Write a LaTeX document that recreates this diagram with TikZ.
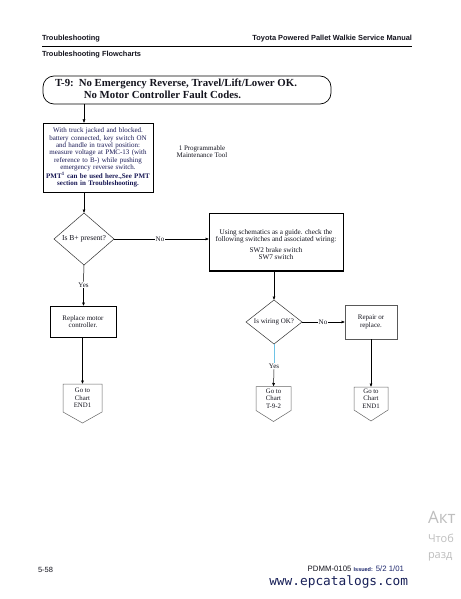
\documentclass[tikz,border=0pt]{standalone}
\usepackage{fontspec}
\setmainfont{Liberation Serif}
\setsansfont{Liberation Sans}
\setmonofont{DejaVu Sans Mono}
\newfontfamily\wmfont{Open Sans}
\usetikzlibrary{shapes.geometric,calc,arrows.meta}
\definecolor{navy}{RGB}{25,25,85}
\definecolor{ink}{RGB}{20,20,30}
\definecolor{lineblue}{RGB}{110,195,230}
\definecolor{wm}{RGB}{190,190,190}
\definecolor{issblue}{RGB}{30,40,110}
\begin{document}
\begin{tikzpicture}[x=1pt,y=-1pt,
  every node/.style={inner sep=0pt, outer sep=0pt, text=ink},
  conn/.style={draw=black, line width=0.5pt},
  arr/.style={conn, -{Latex[length=3.5pt,width=3pt]}},
  small/.style={font=\fontsize{7}{7.6}\selectfont},
  boxk/.style={draw=black, line width=0.6pt, anchor=north west},
  dia/.style={diamond, draw=black!80, line width=0.5pt},
  gobody/.style={rectangle, align=center, font=\fontsize{6.8}{7.4}\selectfont},
  pent/.style={draw=black!60, line width=0.5pt},
  hdr/.style={font=\sffamily\bfseries\fontsize{7.4}{8}\selectfont}]
\clip (0,0) rectangle (460,599);
\fill[white] (0,0) rectangle (460,599);

% header
\node[hdr, anchor=base west] (h1) at (42,41) {Troubleshooting};
\node[hdr, anchor=base east] (h2) at (412,41) {Toyota Powered Pallet Walkie Service Manual};
\coordinate (rl) at (42,46);
\coordinate (rr) at (412,46);
\draw[line width=0.8pt] (rl) -- (rr);
\node[hdr, anchor=base west] (h3) at (42,57) {Troubleshooting Flowcharts};

% title
\node[draw=black, rounded corners=11pt, line width=0.7pt, minimum width=288pt, minimum height=28pt, anchor=north west] (title) at (43,76) {};
\node[anchor=west, font=\bfseries\fontsize{10.8}{12}\selectfont] (tt) at (55,90.5)
  {\begin{tabular}{@{}l@{\hspace{5pt}}l@{}}T-9: & No Emergency Reverse, Travel/Lift/Lower OK.\\ & \hspace{5pt}No Motor Controller Fault Codes.\end{tabular}};

% diamond 1
\node[dia, minimum width=60pt, minimum height=52pt] (d1) at (84,239) {};
\node[font=\fontsize{7.6}{8}\selectfont] (d1t) at (d1) {Is B+ present?};

% box 1
\node[boxk, minimum width=110pt, minimum height=69pt] (b1) at (43,123) {};
\node[font=\fontsize{7}{7.3}\selectfont, align=center, text width=108pt, text=navy] (b1t) at (b1.center)
 {With truck jacked and blocked.\\ battery connected, key switch ON\\ and handle in travel position:\\ measure voltage at PMC-13 (with\\ reference to B-) while pushing\\ emergency reverse switch.\\ \textbf{PMT\textsuperscript{1} can be used here.,See PMT}\\ \textbf{section in Troubleshooting.}};
\draw[line width=0.9pt] (b1.south west) -- (b1.south east);

\node[small, align=center] (fn) at (202,151.5) {1 Programmable\\Maintenance Tool};

% box 2
\node[boxk, minimum width=134pt, minimum height=58pt] (b2) at (209,213) {};
\draw[line width=1.2pt] (b2.south west) -- (b2.south east);
\node[font=\fontsize{7.2}{7}\selectfont, align=center] (b2t) at (276,245)
 {Using schematics as a guide. check the\\ following switches and associated wiring:\\[4pt] SW2 brake switch\\ SW7 switch};

% diamond 2
\node[dia, minimum width=56pt, minimum height=44pt] (d2) at (274,322) {};
\node[font=\fontsize{7}{8}\selectfont] (d2t) at (d2) {Is wiring OK?};

% box 3
\node[draw=black!65, line width=0.6pt, anchor=north west, minimum width=52pt, minimum height=34pt] (b3) at (345,305) {};
\node[small, align=center] (b3t) at (b3.center) {Repair or\\ replace.};

% replace box
\node[boxk, minimum width=66pt, minimum height=31pt] (rep) at (50,306) {};
\draw[line width=0.9pt] (rep.south west) -- (rep.south east);
\node[small, align=center] (rept) at (rep.center) {Replace motor\\ controller.};

% go-to pentagons
\node[gobody, minimum width=39pt, minimum height=28pt] (g1) at (82.5,398) {Go to\\ Chart\\ END1};
\draw[pent] (g1.south west) -- (g1.north west) -- (g1.north east) -- (g1.south east) -- ($(g1.south)+(0,11)$) -- cycle;
\node[gobody, minimum width=35pt, minimum height=24pt] (g2) at (273.5,398.5) {Go to\\ Chart\\ T-9-2};
\draw[pent] (g2.south west) -- (g2.north west) -- (g2.north east) -- (g2.south east) -- ($(g2.south)+(0,11)$) -- cycle;
\node[gobody, minimum width=34pt, minimum height=23pt] (g3) at (371,398.5) {Go to\\ Chart\\ END1};
\draw[pent] (g3.south west) -- (g3.north west) -- (g3.north east) -- (g3.south east) -- ($(g3.south)+(0,11)$) -- cycle;

% labels on connectors
\node[small, fill=white, inner sep=1pt] (no1) at (160,239) {No};
\node[small, fill=white, inner sep=1pt] (yes1) at (83.5,285) {Yes};
\node[small, fill=white, inner sep=1pt] (no2) at (323,322) {No};
\node[small, fill=white, inner sep=1pt] (yes2) at (274,366) {Yes};

% connectors
\draw[arr] (title.south -| d1) -- (b1.north -| d1);
\draw[arr] (b1.south -| d1) -- (d1.north);
\draw[conn] (d1.east) -- (no1.west);
\draw[arr] (no1.east) -- (b2.west |- no1);
\draw[conn] (d1.south) -- (yes1.north);
\draw[arr] (yes1.south) -- (rep.north -| yes1);
\draw[arr] (rep.south -| g1) -- (g1.north);
\draw[arr] (b2.south -| d2) -- (d2.north);
\draw[conn] (d2.east) -- (no2.west);
\draw[arr] (no2.east) -- (b3.west |- no2);
\draw[conn, draw=lineblue] (d2.south) -- (yes2.north);
\draw[arr] (yes2.south) -- (g2.north);
\draw[arr] (b3.south -| g3) -- (g3.north);

% footer
\node[anchor=base west, font=\sffamily\fontsize{7.5}{8}\selectfont] (pg) at (38,572) {5-58};
\node[anchor=base east, font=\sffamily\fontsize{7.8}{8}\selectfont] (iss) at (404,571) {PDMM-0105 {\bfseries\fontsize{5.5}{6}\selectfont\color{issblue}Issued:} \textcolor{issblue}{5/2 1/01}};
\node[anchor=base east, font=\ttfamily\fontsize{12.8}{14}\selectfont, text=issblue!80!black] (url) at (408,585) {www.epcatalogs.com};

% watermark fragments
\node[anchor=base west, font=\wmfont\fontsize{17}{18}\selectfont, text=wm] (wm1) at (428,523) {Акт};
\node[anchor=base west, font=\wmfont\fontsize{11}{12}\selectfont, text=wm] (wm2) at (428,542) {Чтоб};
\node[anchor=base west, font=\wmfont\fontsize{11}{12}\selectfont, text=wm] (wm3) at (428,558) {разд};
\end{tikzpicture}
\end{document}
